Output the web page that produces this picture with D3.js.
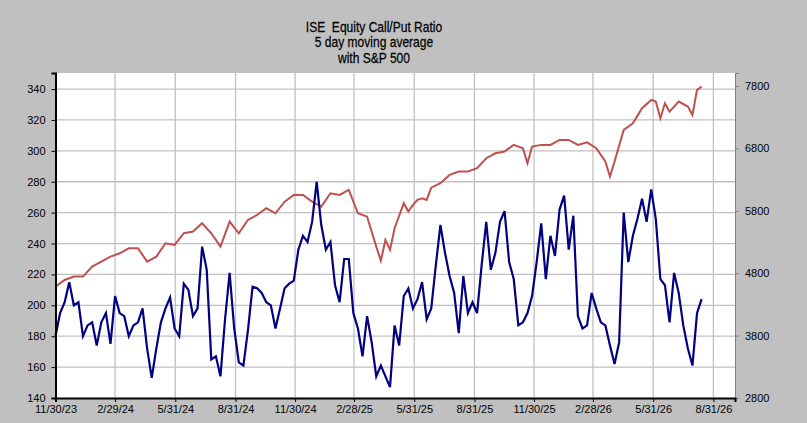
<!DOCTYPE html>
<html>
<head>
<meta charset="utf-8">
<script src="https://cdn.jsdelivr.net/npm/d3@7"></script>
<style>
  body { margin: 0; background: #c0c0c0; }
  svg { display: block; }
</style>
</head>
<body>
<div id="chart"></div>
<script>
// Data (weekly samples from 2023-11-30)
const startDate = new Date(2023, 10, 30)
const xTicks = ["11/30/23", "2/29/24", "5/31/24", "8/31/24", "11/30/24", "2/28/25",
    "5/31/25", "8/31/25", "11/30/25", "2/28/26", "5/31/26", "8/31/26"]
const leftTicks = [140, 160, 180, 200, 220, 240, 260, 280, 300, 320, 340]
const rightTicks = [2800, 3800, 4800, 5800, 6800, 7800]

// ISE call/put ratio, 5 day MA, one value per week
const ratio = [180, 195, 202, 215, 200, 202, 180, 187, 189, 174, 189, 195, 175, 206, 195, 193,
    180, 187, 189, 198, 172, 153, 172, 189, 198, 205, 185, 180, 214, 210, 193, 198, 238, 223,
    165, 167, 154, 191, 221, 185, 163, 161, 184, 212, 211, 208, 202, 200, 185, 198, 211, 214,
    216, 236, 245, 241, 254, 280, 252, 236, 241, 213, 202, 230, 230, 195, 185, 167, 193, 176,
    154, 161, 154, 147, 187, 174, 206, 211, 198, 204, 215, 191, 198, 226, 252, 234, 219, 208,
    182, 219, 195, 202, 195, 226, 254, 223, 234, 254, 261, 228, 217, 187, 189, 195, 206, 228,
    253, 217, 245, 232, 262, 271, 236, 258, 193, 185, 187, 208, 198, 189, 187, 174, 162, 176,
    260, 228, 245, 256, 269, 254, 275, 256, 217, 213, 189, 221, 208, 187, 172, 161, 195, 204]

// S&P 500, sampled at these week numbers
const spxWeeks = [0, 2, 4, 6, 8, 10, 12, 14, 16, 18, 20, 22, 24, 26, 28, 30, 32, 34, 36, 38,
    40, 42, 44, 46, 48, 50, 52, 54, 56, 58, 60, 62, 64, 66, 68, 70, 71, 72, 73, 74, 76, 77, 78,
    79, 80, 81, 82, 84, 86, 88, 90, 92, 94, 96, 98, 100, 102, 103, 104, 106, 108, 110, 112,
    114, 116, 118, 120, 121, 122, 124, 126, 128, 130, 131, 132, 133, 134, 136, 138, 139, 140, 141]
const spx = [4584, 4691, 4745, 4745, 4905, 4985, 5065, 5119, 5199, 5199, 4985, 5065, 5279,
    5252, 5440, 5467, 5600, 5440, 5226, 5627, 5440, 5654, 5733, 5840, 5760, 5947, 6054, 6054,
    5947, 5867, 6081, 6054, 6134, 5760, 5706, 5226, 5000, 5333, 5173, 5520, 5921, 5787, 5894,
    5974, 6001, 5974, 6170, 6242, 6375, 6428, 6428, 6482, 6642, 6722, 6749, 6856, 6802, 6562,
    6829, 6856, 6856, 6936, 6936, 6856, 6896, 6802, 6589, 6348, 6589, 7096, 7203, 7444, 7577,
    7550, 7283, 7523, 7389, 7550, 7470, 7336, 7737, 7790]

const titleLines = ["ISE  Equity Call/Put Ratio", "5 day moving average", "with S&P 500"]

// Dimensions
const width = 807, height = 423
const plot = { left: 55.5, right: 735, top: 73, bottom: 398 }

const svg = d3.select("#chart").append("svg")
    .attr("width", width).attr("height", height)
    .style("font-family", "'Liberation Sans', Arial, sans-serif")

const parse = d3.timeParse("%m/%d/%y")
const weekDate = k => d3.timeDay.offset(startDate, k * 7)

const x = d3.scaleTime()
    .domain([startDate, new Date(2026, 9, 3)])
    .range([plot.left, plot.right])
const yL = d3.scaleLinear().domain([140, 350.4]).range([plot.bottom, plot.top])
const yR = d3.scaleLinear().domain([2800, 8008]).range([plot.bottom, plot.top])

// plot background
svg.append("rect")
    .attr("x", plot.left).attr("y", plot.top)
    .attr("width", plot.right - plot.left).attr("height", plot.bottom - plot.top)
    .attr("fill", "#fff")

// gridlines
const grid = svg.append("g").attr("stroke", "#c0c0c0").attr("stroke-width", 1.3)
grid.selectAll(".gy").data(leftTicks.slice(1)).join("line")
    .attr("x1", plot.left).attr("x2", plot.right)
    .attr("y1", d => yL(d)).attr("y2", d => yL(d))
grid.selectAll(".gx").data(xTicks.slice(1)).join("line")
    .attr("y1", plot.top).attr("y2", plot.bottom)
    .attr("x1", d => x(parse(d))).attr("x2", d => x(parse(d)))

// lines
svg.append("path")
    .datum(spx.map((v, i) => [weekDate(spxWeeks[i]), v]))
    .attr("fill", "none").attr("stroke", "#c0504d").attr("stroke-width", 2)
    .attr("d", d3.line().x(d => x(d[0])).y(d => yR(d[1])))

svg.append("path")
    .datum(ratio.map((v, i) => [weekDate(i), v]))
    .attr("fill", "none").attr("stroke", "#000080").attr("stroke-width", 2.2)
    .attr("d", d3.line().x(d => x(d[0])).y(d => yL(d[1])))

// axes
const axL = svg.append("g").attr("transform", `translate(${plot.left},0)`)
    .call(d3.axisLeft(yL).tickValues(leftTicks).tickSize(4).tickPadding(6))
const axR = svg.append("g").attr("transform", `translate(${plot.right},0)`)
    .call(d3.axisRight(yR).tickValues(rightTicks).tickFormat(d3.format("d"))
        .tickSize(4).tickPadding(6))
const axB = svg.append("g").attr("transform", `translate(0,${plot.bottom})`)
    .call(d3.axisBottom(x).tickValues(xTicks.map(parse)).tickFormat(d3.timeFormat("%-m/%-d/%y"))
        .tickSize(4).tickPadding(3))
;[axL, axB].forEach(a => {
    a.select(".domain").attr("stroke", "#000").attr("stroke-width", 2)
})
axR.select(".domain").attr("stroke", "#808080").attr("stroke-width", 1)
;[axL, axR, axB].forEach(a => {
    a.selectAll(".tick text").attr("font-size", 11).attr("fill", "#000")
    a.style("font-family", "'Liberation Sans', Arial, sans-serif")
})
axR.selectAll(".tick line").attr("stroke", "#808080")

// title (narrow look)
svg.append("text")
    .attr("transform", "translate(374,32) scale(0.86,1)")
    .attr("text-anchor", "middle")
    .attr("font-size", 14)
    .attr("stroke", "#000").attr("stroke-width", 0.25)
    .style("white-space", "pre")
    .selectAll("tspan").data(titleLines).join("tspan")
    .attr("x", 0).attr("dy", (d, i) => i ? 15.5 : 0)
    .text(d => d)
</script>
</body>
</html>
